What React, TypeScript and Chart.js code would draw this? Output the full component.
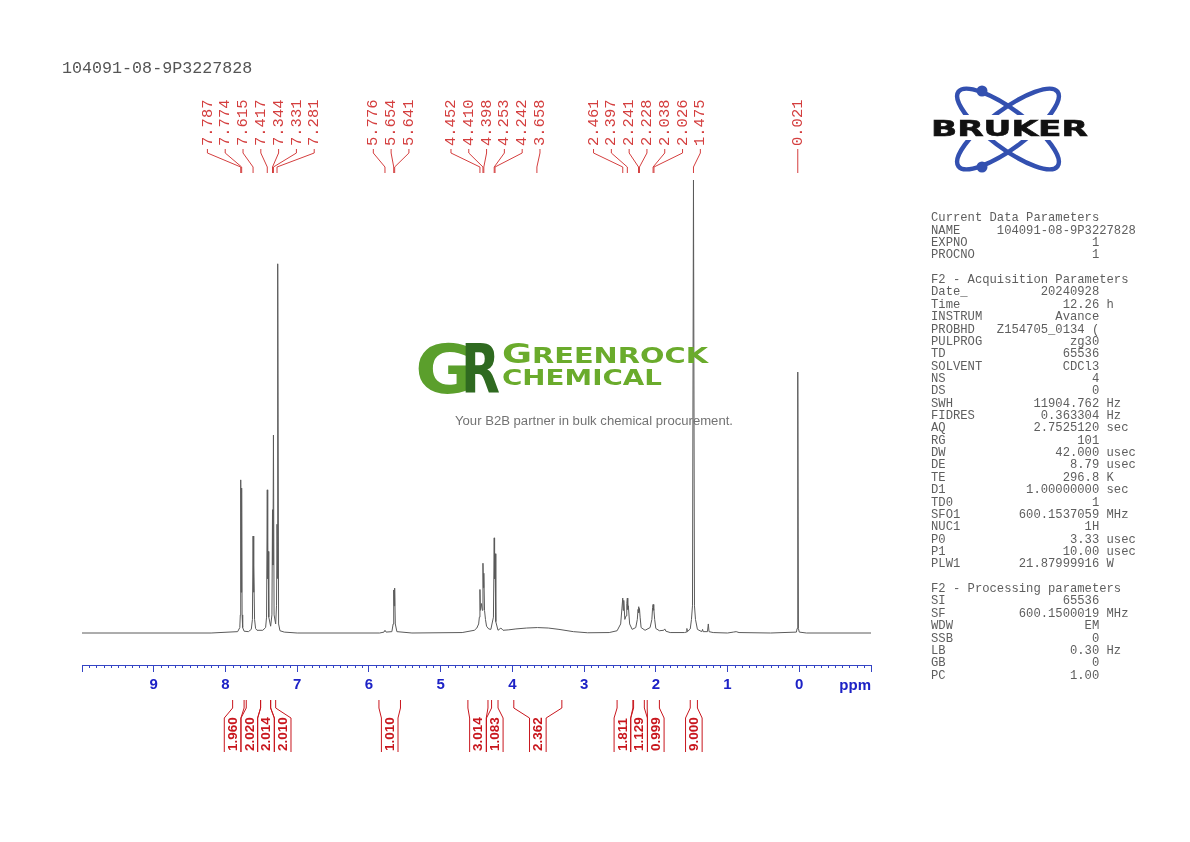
import React, { useEffect, useRef } from 'react';
import { Chart, registerables } from 'chart.js';

Chart.register(...registerables);

// ---------------- data ----------------
const sampleName = '104091-08-9P3227828';

const axisMin = -1;
const axisMax = 10;
const axisLabelValues = [0, 1, 2, 3, 4, 5, 6, 7, 8, 9];

// spectrum trace (ppm, relative intensity; tallest = 100)
const tracePpm = [
  10.0, 8.2, 7.83, 7.8, 7.793, 7.787, 7.781, 7.774, 7.768, 7.76, 7.74, 7.68,
  7.64, 7.624, 7.615, 7.609, 7.603, 7.594, 7.58, 7.56, 7.48, 7.44, 7.427,
  7.417, 7.411, 7.405, 7.396, 7.37, 7.352, 7.344, 7.338, 7.331, 7.322,
  7.3, 7.288, 7.281, 7.275, 7.268, 7.259, 7.24, 7.18, 7.0, 5.85,
  5.79, 5.776, 5.76, 5.68, 5.662, 5.654, 5.648, 5.641, 5.632, 5.61,
  5.4, 4.7, 4.53, 4.495, 4.47, 4.46, 4.452, 4.445, 4.43, 4.418, 4.41,
  4.404, 4.398, 4.388, 4.375, 4.36, 4.33, 4.3, 4.264, 4.253, 4.248, 4.242,
  4.231, 4.2, 4.16, 4.13, 4.05, 3.95, 3.8, 3.65, 3.5, 3.35,
  3.15, 2.95, 2.65, 2.54, 2.49, 2.472, 2.461, 2.455, 2.447, 2.432,
  2.415, 2.405, 2.397, 2.391, 2.383, 2.365, 2.33, 2.28, 2.258, 2.248,
  2.241, 2.235, 2.228, 2.219, 2.205, 2.15, 2.08, 2.055, 2.045, 2.038,
  2.032, 2.026, 2.016, 2.0, 1.95, 1.89, 1.875, 1.86, 1.8, 1.6,
  1.575, 1.567, 1.559, 1.52, 1.503, 1.489, 1.475, 1.461, 1.447, 1.42,
  1.36, 1.348, 1.34, 1.28, 1.268, 1.258, 1.2, 1.0, 0.92, 0.88,
  0.84, 0.4, 0.04, 0.03, 0.021, 0.012, 0.0, -0.1, -1.0,
];
const traceIntensity = [
  0, 0, 0.3, 1.2, 4.0, 33.8, 9.0, 32.0, 4.0, 1.2, 0.4, 0.3,
  0.8, 3.0, 21.4, 9.0, 15.0, 3.0, 1.0, 0.6, 0.6, 1.2, 3.5,
  31.6, 12.0, 18.0, 3.5, 1.5, 4.0, 27.2, 15.0, 43.7, 4.0,
  2.0, 6.0, 24.0, 12.0, 81.5, 2.0, 0.5, 0.2, 0, 0,
  0.2, 0.6, 0.2, 0.3, 2.0, 9.5, 6.0, 9.9, 2.0, 0.3,
  0, 0.1, 0.6, 1.1, 2.0, 3.5, 9.6, 5.0, 6.5, 5.0, 15.4,
  10.0, 13.2, 5.0, 3.0, 1.5, 0.9, 0.8, 3.5, 21.0, 12.0, 17.5,
  2.5, 0.6, 1.1, 0.6, 0.7, 0.9, 1.1, 1.2, 1.1, 0.8,
  0.3, 0.05, 0.1, 0.5, 2.0, 5.5, 7.7, 5.0, 7.2, 3.0,
  3.8, 6.5, 7.7, 5.2, 6.0, 2.0, 0.8, 1.2, 3.0, 5.2,
  5.8, 4.5, 5.4, 3.5, 1.2, 0.6, 1.2, 3.0, 5.6, 6.3,
  5.0, 5.5, 3.0, 1.0, 0.5, 0.6, 0.9, 0.4, 0.1, 0.1,
  0.2, 1.0, 0.3, 0.9, 3.0, 6.0, 100, 6.0, 3.0, 0.8,
  0.3, 0.8, 0.3, 0.3, 2.0, 0.3, 0.1, 0, 0.2, 0.3,
  0.1, 0, 0.2, 1.0, 57.6, 1.0, 0.2, 0, 0,
];

const peakLabels = [
  7.787, 7.774, 7.615, 7.417, 7.344, 7.331, 7.281,
  5.776, 5.654, 5.641,
  4.452, 4.41, 4.398, 4.253, 4.242, 3.658,
  2.461, 2.397, 2.241, 2.228, 2.038, 2.026, 1.475,
  0.021,
];

const integralFrom = [7.9, 7.71, 7.51, 7.37, 5.86, 4.62, 4.29, 3.98, 2.54, 2.31, 2.12, 1.52];
const integralTo = [7.74, 7.51, 7.37, 7.3, 5.56, 4.34, 4.2, 3.31, 2.32, 2.16, 1.95, 1.42];
const integralValues = ['1.960', '2.020', '2.014', '2.010', '1.010', '3.014', '1.083', '2.362', '1.811', '1.129', '0.999', '9.000'];

const currentParams: string[][] = [
  ['NAME', '104091-08-9P3227828', ''],
  ['EXPNO', '1', ''],
  ['PROCNO', '1', ''],
];
const acquisitionParams: string[][] = [
  ['Date_', '20240928', ''],
  ['Time', '12.26', 'h'],
  ['INSTRUM', 'Avance', ''],
  ['PROBHD', 'Z154705_0134 (', ''],
  ['PULPROG', 'zg30', ''],
  ['TD', '65536', ''],
  ['SOLVENT', 'CDCl3', ''],
  ['NS', '4', ''],
  ['DS', '0', ''],
  ['SWH', '11904.762', 'Hz'],
  ['FIDRES', '0.363304', 'Hz'],
  ['AQ', '2.7525120', 'sec'],
  ['RG', '101', ''],
  ['DW', '42.000', 'usec'],
  ['DE', '8.79', 'usec'],
  ['TE', '296.8', 'K'],
  ['D1', '1.00000000', 'sec'],
  ['TD0', '1', ''],
  ['SFO1', '600.1537059', 'MHz'],
  ['NUC1', '1H', ''],
  ['P0', '3.33', 'usec'],
  ['P1', '10.00', 'usec'],
  ['PLW1', '21.87999916', 'W'],
];
const processingParams: string[][] = [
  ['SI', '65536', ''],
  ['SF', '600.1500019', 'MHz'],
  ['WDW', 'EM', ''],
  ['SSB', '0', ''],
  ['LB', '0.30', 'Hz'],
  ['GB', '0', ''],
  ['PC', '1.00', ''],
];

// ---------------- styles ----------------
const AXIS_BLUE = '#3444c4';
const LABEL_BLUE = '#1d22c6';
const PEAK_RED = '#d43e3e';
const INT_RED = '#c8161d';
const TRACE_GREY = '#5a5a5a';

function fmtRow(r: string[]): string {
  const [label, value, unit] = r;
  const pad = label.length + value.length + 1 > 23 ? 9 : 23 - value.length;
  return label.padEnd(pad) + value + (unit ? ' ' + unit : '');
}

const paramText = [
  'Current Data Parameters',
  ...currentParams.map(fmtRow),
  '',
  'F2 - Acquisition Parameters',
  ...acquisitionParams.map(fmtRow),
  '',
  'F2 - Processing parameters',
  ...processingParams.map(fmtRow),
].join('\n');

// spread labels evenly around their cluster centres (Bruker-like)
function spreadLabels(xs: number[], gap: number): number[] {
  type C = { n: number; sum: number };
  const cl: C[] = [];
  xs.forEach((x) => {
    cl.push({ n: 1, sum: x });
    while (cl.length > 1) {
      const b = cl[cl.length - 1];
      const a = cl[cl.length - 2];
      const ac = a.sum / a.n;
      const bc = b.sum / b.n;
      if (ac + (a.n * gap) / 2 > bc - (b.n * gap) / 2 - 0.01) {
        cl.splice(cl.length - 2, 2, { n: a.n + b.n, sum: a.sum + b.sum });
      } else break;
    }
  });
  const out: number[] = [];
  cl.forEach((c) => {
    const center = c.sum / c.n;
    for (let k = 0; k < c.n; k++) out.push(center + (k - (c.n - 1) / 2) * gap);
  });
  return out;
}

const nmrOverlay = {
  id: 'nmrOverlay',
  afterDraw(chart: any) {
    const ctx: CanvasRenderingContext2D = chart.ctx;
    const xs = chart.scales.x;
    const area = chart.chartArea;
    ctx.save();

    // minor ticks
    ctx.strokeStyle = AXIS_BLUE;
    ctx.lineWidth = 1;
    for (let i = Math.round(axisMin * 10); i <= Math.round(axisMax * 10); i++) {
      if (i % 10 === 0) continue;
      const x = Math.round(xs.getPixelForValue(i / 10)) + 0.5;
      ctx.beginPath();
      ctx.moveTo(x, area.bottom);
      ctx.lineTo(x, area.bottom + 3);
      ctx.stroke();
    }

    // ppm unit
    ctx.fillStyle = LABEL_BLUE;
    ctx.font = 'bold 15px "Liberation Sans", Arial, sans-serif';
    ctx.textAlign = 'right';
    ctx.textBaseline = 'middle';
    ctx.fillText('ppm', area.right, 686);

    // peak labels
    const peakPx = peakLabels.map((p) => xs.getPixelForValue(p));
    const lx = spreadLabels(peakPx, 17.8);
    ctx.strokeStyle = PEAK_RED;
    ctx.fillStyle = PEAK_RED;
    ctx.lineWidth = 1;
    ctx.font = '15.5px "Liberation Mono", "DejaVu Sans Mono", monospace';
    peakLabels.forEach((p, i) => {
      const tx = lx[i];
      const px = peakPx[i];
      ctx.beginPath();
      ctx.moveTo(tx, 149);
      ctx.lineTo(tx, 153);
      ctx.lineTo(px, 167);
      ctx.lineTo(px, 173);
      ctx.stroke();
      ctx.save();
      ctx.translate(tx, 146);
      ctx.rotate(-Math.PI / 2);
      ctx.textAlign = 'left';
      ctx.textBaseline = 'middle';
      ctx.fillText(p.toFixed(3), 0, 0);
      ctx.restore();
    });

    // integrals
    const intCenters = integralFrom.map((f, i) => xs.getPixelForValue((f + integralTo[i]) / 2));
    const ix = spreadLabels(intCenters, 16.7);
    ctx.strokeStyle = INT_RED;
    ctx.fillStyle = INT_RED;
    ctx.font = 'bold 13.5px "Liberation Sans", Arial, sans-serif';
    integralValues.forEach((v, i) => {
      const l = xs.getPixelForValue(integralFrom[i]);
      const r = xs.getPixelForValue(integralTo[i]);
      const bl = ix[i] - 8.3;
      const br = ix[i] + 8.3;
      ctx.beginPath();
      ctx.moveTo(l, 700);
      ctx.lineTo(l, 708);
      ctx.lineTo(bl, 718);
      ctx.lineTo(bl, 752);
      ctx.moveTo(r, 700);
      ctx.lineTo(r, 708);
      ctx.lineTo(br, 718);
      ctx.lineTo(br, 752);
      ctx.stroke();
      ctx.save();
      ctx.translate(ix[i] + 0.5, 751);
      ctx.rotate(-Math.PI / 2);
      ctx.textAlign = 'left';
      ctx.textBaseline = 'middle';
      ctx.fillText(v, 0, 0);
      ctx.restore();
    });

    ctx.restore();
  },
};

export default function App() {
  const canvasRef = useRef<HTMLCanvasElement>(null);

  useEffect(() => {
    const canvas = canvasRef.current;
    if (!canvas) return;
    const chart = new Chart(canvas, {
      type: 'line',
      data: {
        datasets: [
          {
            data: tracePpm.map((p, i) => ({ x: p, y: traceIntensity[i] })),
            borderColor: TRACE_GREY,
            borderWidth: 1,
            pointRadius: 0,
            tension: 0,
            fill: false,
            clip: false,
          } as any,
        ],
      },
      options: {
        animation: false,
        responsive: false,
        maintainAspectRatio: false,
        events: [],
        layout: { padding: { left: 82, right: 319, top: 180, bottom: 137 } },
        plugins: { legend: { display: false }, tooltip: { enabled: false } },
        scales: {
          x: {
            type: 'linear',
            min: axisMin,
            max: axisMax,
            reverse: true,
            border: { color: AXIS_BLUE, width: 1 },
            grid: { drawOnChartArea: false, drawTicks: true, tickLength: 7, color: AXIS_BLUE },
            ticks: {
              stepSize: 1,
              autoSkip: false,
              maxRotation: 0,
              padding: 4,
              color: LABEL_BLUE,
              font: { family: '"Liberation Sans", Arial, sans-serif', size: 15, weight: 'bold' },
              callback: (v: any) => (axisLabelValues.includes(Number(v)) ? String(v) : ''),
            },
            afterFit: (s: any) => {
              s.height = 40;
            },
          },
          y: { display: false, min: -7.064, max: 100 },
        },
      } as any,
      plugins: [nmrOverlay],
    });
    return () => chart.destroy();
  }, []);

  return (
    <div style={{ position: 'absolute', left: 0, top: 0, width: 1190, height: 842, background: '#fff', overflow: 'hidden' }}>
      <canvas ref={canvasRef} width={1190} height={842} style={{ position: 'absolute', left: 0, top: 0, width: 1190, height: 842 }} />
      <div
        style={{
          position: 'absolute',
          left: 62,
          top: 59.5,
          font: '16.7px "Liberation Mono", monospace',
          lineHeight: '18px',
          color: '#555',
          whiteSpace: 'pre',
        }}
      >
        {sampleName}
      </div>
      <pre
        style={{
          position: 'absolute',
          left: 931,
          top: 212.3,
          margin: 0,
          font: '12.2px "Liberation Mono", monospace',
          lineHeight: '12.36px',
          color: '#5e5e5e',
        }}
      >
        {paramText}
      </pre>
      <svg width={1190} height={842} viewBox="0 0 1190 842" style={{ position: 'absolute', left: 0, top: 0, pointerEvents: 'none' }}>
        {/* Bruker logo */}
        <g fill="none" stroke="#3350b0" strokeWidth={4.5}>
          <ellipse cx={1008} cy={129} rx={62} ry={19} transform="rotate(37 1008 129)" />
          <ellipse cx={1008} cy={129} rx={62} ry={19} transform="rotate(-37 1008 129)" />
        </g>
        <circle cx={982} cy={91} r={5.5} fill="#3350b0" />
        <circle cx={982} cy={167} r={5.5} fill="#3350b0" />
        <rect x={926} y={115} width={168} height={25} fill="#fff" />
        <text
          x={931}
          y={136}
          fontFamily="DejaVu Sans, sans-serif"
          fontWeight="bold"
          fontSize={22}
          fill="#111"
          stroke="#111"
          strokeWidth={0.6}
          textLength={157}
          lengthAdjust="spacingAndGlyphs"
        >
          BRUKER
        </text>
        {/* watermark */}
        <g>
          <text x={415} y={393} fontFamily="DejaVu Sans, sans-serif" fontWeight="bold" fontSize={68} fill="#5b9f2c" textLength={60} lengthAdjust="spacingAndGlyphs">
            G
          </text>
          <text x={461} y={393} fontFamily="DejaVu Sans, sans-serif" fontWeight="bold" fontSize={68} fill="#2f6a20" textLength={39} lengthAdjust="spacingAndGlyphs">
            R
          </text>
          <text x={502} y={363} fontFamily="DejaVu Sans, sans-serif" fontWeight="bold" fontSize={20.5} fill="#6aab2c" textLength={206} lengthAdjust="spacingAndGlyphs">
            <tspan fontSize={26}>G</tspan>REENROCK
          </text>
          <text x={502} y={385} fontFamily="DejaVu Sans, sans-serif" fontWeight="bold" fontSize={21.5} fill="#6aab2c" textLength={160} lengthAdjust="spacingAndGlyphs">
            CHEMICAL
          </text>
          <text x={455} y={425} fontFamily="Liberation Sans, Arial, sans-serif" fontSize={12.5} fill="#737373" textLength={278} lengthAdjust="spacingAndGlyphs">
            Your B2B partner in bulk chemical procurement.
          </text>
        </g>
      </svg>
    </div>
  );
}
